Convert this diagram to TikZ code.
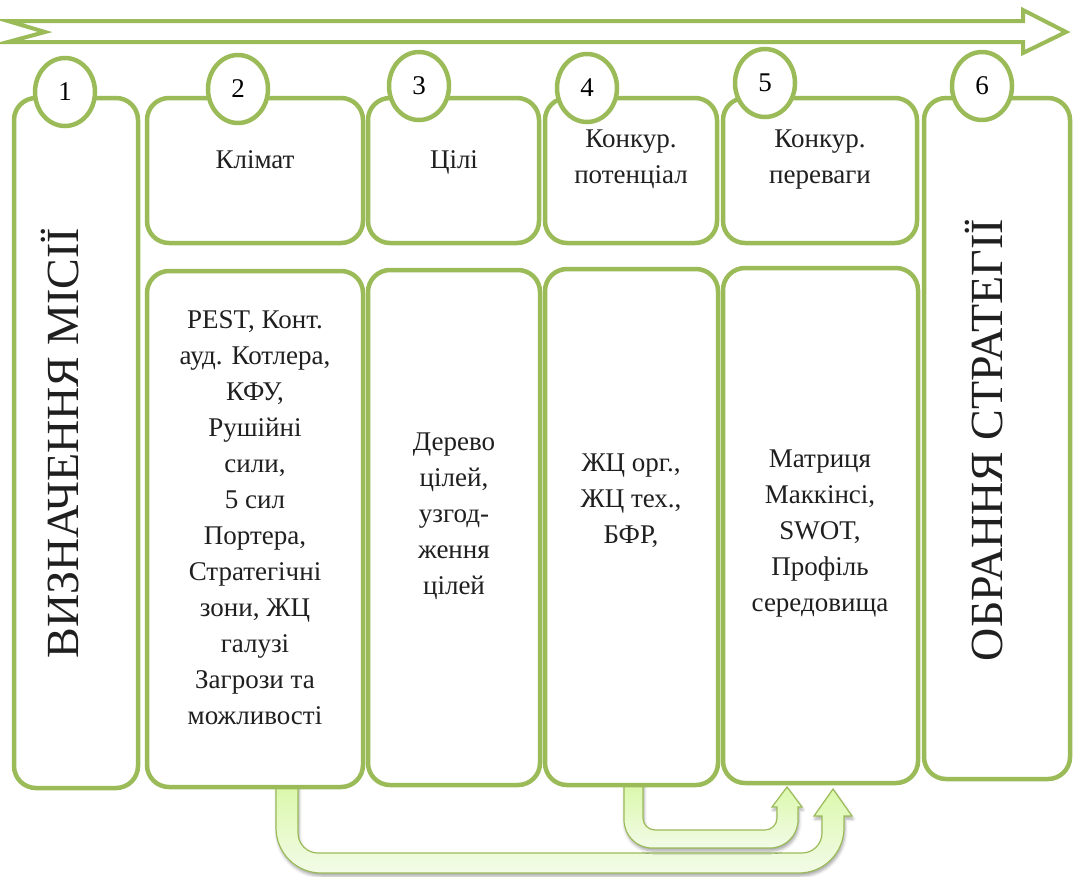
\documentclass[tikz,border=0pt]{standalone}
\usepackage{fontspec}
\setmainfont{Liberation Serif}
\usetikzlibrary{shapes.geometric,shadows.blur}
\definecolor{og}{HTML}{9BBB59}
\definecolor{atop}{HTML}{D8F8A6}
\definecolor{abot}{HTML}{F3FBE8}
\begin{document}
\begin{tikzpicture}[x=1pt,y=1pt,
  box/.style={draw=og, line width=4.5pt, rounded corners=22pt, fill=white, inner sep=0pt},
  num/.style={ellipse, draw=og, line width=4.5pt, fill=white, minimum width=60pt, minimum height=68pt, inner sep=0pt, font=\fontsize{27}{32}\selectfont},
  txt/.style={align=center, inner sep=0pt, font=\fontsize{27}{36}\selectfont, text=black!88},
  vtxt/.style={rotate=90, anchor=base, inner sep=0pt, font=\fontsize{46}{50}\selectfont, text=black!88},
  blockarrow/.style={draw=og, line width=1.2pt, top color=atop, bottom color=abot,
     blur shadow={shadow xshift=1pt, shadow yshift=-3pt, shadow blur radius=3pt, shadow opacity=35}}]
\useasboundingbox (0,0) rectangle (1073,-876);

% top timeline arrow
\draw[og, line width=4pt, fill=white, line join=miter]
  (8,-21) -- (1023,-21) -- (1023,-10) -- (1066,-32) -- (1023,-53) -- (1023,-42) -- (8,-42) -- (45,-32) -- cycle;

% bottom block arrows
\path[blockarrow] (276,-780) -- (276,-828) arc[start angle=180,end angle=270,radius=45]
  -- (799,-873) arc[start angle=270,end angle=360,radius=45]
  -- (844,-816) -- (852,-816) -- (833,-789) -- (814,-816) -- (822,-816)
  -- (822,-833) arc[start angle=0,end angle=-90,radius=20]
  -- (318,-853) arc[start angle=270,end angle=180,radius=20]
  -- (298,-780) -- cycle;
\path[blockarrow] (624,-780) -- (624,-820) arc[start angle=180,end angle=270,radius=28]
  -- (770,-848) arc[start angle=270,end angle=360,radius=28]
  -- (798,-807) -- (802,-807) -- (787,-787) -- (772,-807) -- (777,-807)
  -- (777,-818) arc[start angle=0,end angle=-90,radius=12]
  -- (655,-830) arc[start angle=270,end angle=180,radius=12]
  -- (643,-780) -- cycle;

% boxes
\node[box, minimum width=124pt, minimum height=690pt] (b1) at (76,-443) {};
\node[box, minimum width=216pt, minimum height=145pt] (b2t) at (255,-170.5) {};
\node[box, minimum width=216pt, minimum height=516pt] (b2b) at (255,-529) {};
\node[box, minimum width=171pt, minimum height=145pt] (b3t) at (453.5,-170.5) {};
\node[box, minimum width=172pt, minimum height=515pt] (b3b) at (454,-527.5) {};
\node[box, minimum width=172pt, minimum height=145pt] (b4t) at (631,-170.5) {};
\node[box, minimum width=173pt, minimum height=516pt] (b4b) at (631.5,-527) {};
\node[box, minimum width=194pt, minimum height=145pt] (b5t) at (820,-170.5) {};
\node[box, minimum width=195pt, minimum height=515pt] (b5b) at (820.5,-525.5) {};
\node[box, minimum width=146pt, minimum height=681pt] (b6) at (997,-438.5) {};

% number ellipses
\node[num] (c1) at (65,-92) {1};
\node[num] (c2) at (238,-89) {2};
\node[num] (c3) at (419,-86) {3};
\node[num] (c4) at (587,-88) {4};
\node[num] (c5) at (765,-83) {5};
\node[num] (c6) at (982,-86) {6};

% vertical titles
\node[vtxt] (v1) at (78,-443) {ВИЗНАЧЕННЯ МІСІЇ};
\node[vtxt] (v6) at (1002,-440) {ОБРАННЯ СТРАТЕГІЇ};

% header texts
\node[txt, anchor=north] (t2a) at (255,-150) {Клімат};
\node[txt, anchor=north] (t3a) at (454,-150) {Цілі};
\node[txt, anchor=north] (t4a) at (631,-130) {Конкур.\\потенціал};
\node[txt, anchor=north] (t5a) at (820,-130) {Конкур.\\переваги};

% body texts
\node[txt, anchor=north] (t2b) at (255,-310) {PEST, Конт.\\ауд. Котлера,\\КФУ,\\Рушійні\\сили,\\5 сил\\Портера,\\Стратегічні\\зони, ЖЦ\\галузі\\Загрози та\\можливості};
\node[txt, anchor=north] (t3b) at (454,-433) {Дерево\\цілей,\\узгод-\\ження\\цілей};
\node[txt, anchor=north] (t4b) at (631,-454) {ЖЦ орг.,\\ЖЦ тех.,\\БФР,};
\node[txt, anchor=north] (t5b) at (820,-450) {Матриця\\Маккінсі,\\SWOT,\\Профіль\\середовища};
\end{tikzpicture}
\end{document}
